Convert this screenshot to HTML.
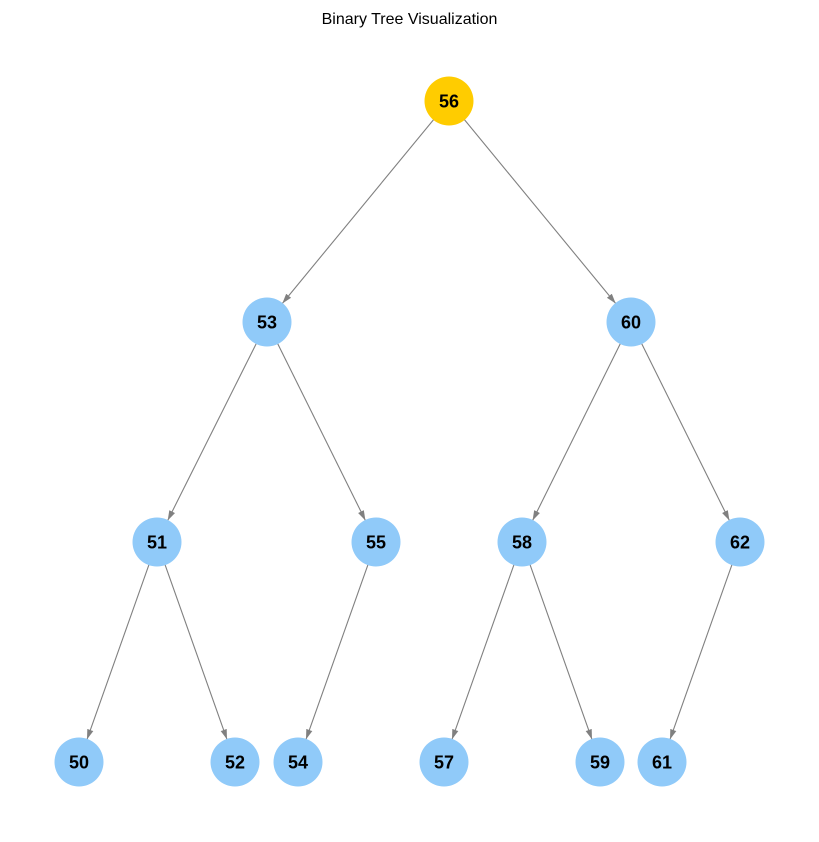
<!DOCTYPE html>
<html><head><meta charset="utf-8"><style>
html,body{margin:0;padding:0;background:#fff;}
svg{display:block;}
text{font-family:"Liberation Sans","DejaVu Sans",sans-serif;}
</style></head><body>
<svg width="819" height="842" viewBox="0 0 819 842" xmlns="http://www.w3.org/2000/svg">
<defs>
<marker id="a" markerUnits="userSpaceOnUse" markerWidth="10" markerHeight="8" refX="10" refY="4" orient="auto">
<path d="M0,0.8 L10,4 L0,7.2 Z" fill="#808080"/>
</marker>
</defs>
<text x="409.5" y="24" text-anchor="middle" font-size="16" fill="#000">Binary Tree Visualization</text>
<g stroke="#808080" stroke-width="1.1" marker-end="url(#a)">
<line x1="433.7" y1="119.5" x2="282.3" y2="303.5"/>
<line x1="464.3" y1="119.5" x2="615.7" y2="303.5"/>
<line x1="256.3" y1="343.5" x2="167.7" y2="520.5"/>
<line x1="277.6" y1="343.5" x2="365.4" y2="520.5"/>
<line x1="620.4" y1="343.5" x2="532.6" y2="520.5"/>
<line x1="641.6" y1="343.5" x2="729.4" y2="520.5"/>
<line x1="149" y1="564.6" x2="87" y2="739.4"/>
<line x1="165" y1="564.6" x2="227" y2="739.4"/>
<line x1="368" y1="564.6" x2="306" y2="739.4"/>
<line x1="514" y1="564.6" x2="452" y2="739.4"/>
<line x1="530" y1="564.6" x2="592" y2="739.4"/>
<line x1="732" y1="564.6" x2="670" y2="739.4"/>
</g>
<g fill="#90caf9">
<circle cx="449" cy="101" r="24.5" fill="#ffcc00"/>
<circle cx="267" cy="322" r="24.5"/>
<circle cx="631" cy="322" r="24.5"/>
<circle cx="157" cy="542" r="24.5"/>
<circle cx="376" cy="542" r="24.5"/>
<circle cx="522" cy="542" r="24.5"/>
<circle cx="740" cy="542" r="24.5"/>
<circle cx="79" cy="762" r="24.5"/>
<circle cx="235" cy="762" r="24.5"/>
<circle cx="298" cy="762" r="24.5"/>
<circle cx="444" cy="762" r="24.5"/>
<circle cx="600" cy="762" r="24.5"/>
<circle cx="662" cy="762" r="24.5"/>
</g>
<g font-size="18" font-weight="bold" text-anchor="middle" fill="#000">
<text x="449" y="107.5">56</text>
<text x="267" y="328.5">53</text>
<text x="631" y="328.5">60</text>
<text x="157" y="548.5">51</text>
<text x="376" y="548.5">55</text>
<text x="522" y="548.5">58</text>
<text x="740" y="548.5">62</text>
<text x="79" y="768.5">50</text>
<text x="235" y="768.5">52</text>
<text x="298" y="768.5">54</text>
<text x="444" y="768.5">57</text>
<text x="600" y="768.5">59</text>
<text x="662" y="768.5">61</text>
</g>
</svg>
</body></html>
